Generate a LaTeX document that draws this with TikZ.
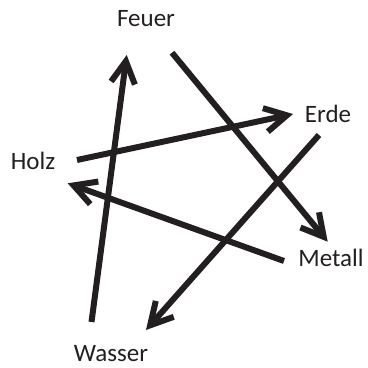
\documentclass[tikz,border=0pt]{standalone}
\usepackage{fontspec}
\setmainfont{Carlito}
\usetikzlibrary{arrows.meta}
\definecolor{ink}{HTML}{231F20}
\begin{document}
\begin{tikzpicture}[x=1pt,y=-1pt,
  lbl/.style={text=ink,font=\fontsize{25}{30}\selectfont,inner sep=0pt,anchor=base},
  conn/.style={draw=ink,line width=6pt,-{Straight Barb[length=22pt,width=24pt]}}]
\useasboundingbox (0,0) rectangle (368,368);
\node[lbl] (feuer) at (146,26.7) {Feuer};
\node[lbl] (erde) at (328,122.7) {Erde};
\node[lbl] (holz) at (33,169.3) {Holz};
\node[lbl] (metall) at (331,266) {Metall};
\node[lbl] (wasser) at (111,361.7) {Wasser};
\coordinate (w1) at (91.5,322);
\coordinate (f1) at (126.7,55);
\coordinate (f2) at (172,52.7);
\coordinate (m1) at (327.7,241.7);
\coordinate (h1) at (77,160);
\coordinate (e1) at (293,114);
\coordinate (m2) at (284,261);
\coordinate (h2) at (67.7,183.3);
\coordinate (e2) at (319,135);
\coordinate (w2) at (146,330);
\draw[conn] (w1) -- (f1);
\draw[conn] (f2) -- (m1);
\draw[conn] (h1) -- (e1);
\draw[conn] (m2) -- (h2);
\draw[conn] (e2) -- (w2);
\end{tikzpicture}
\end{document}
